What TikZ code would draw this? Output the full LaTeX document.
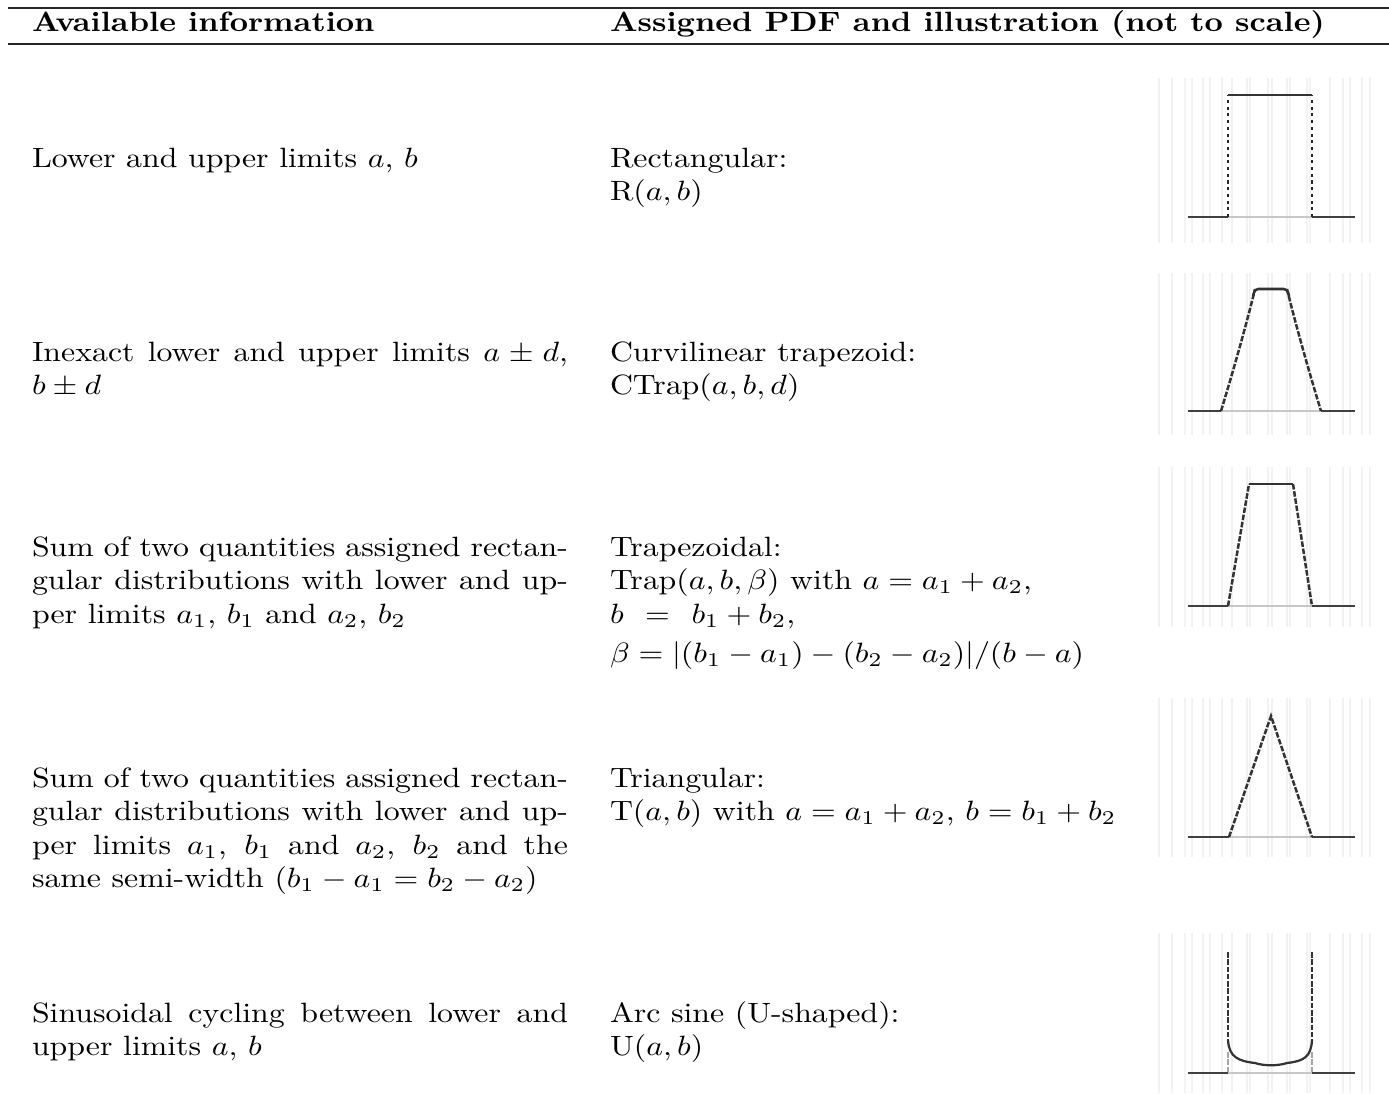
\documentclass[tikz,border=0pt]{standalone}
\usepackage{graphicx}
\newcommand{\wide}[1]{\scalebox{1.14}[1]{#1}}
\newcommand{\leftpar}[1]{\wide{\parbox[t]{168.4pt}{#1}}}
\newcommand{\rightpar}[1]{\wide{\parbox[t]{190pt}{\raggedright #1}}}
\tikzset{
  txt/.style={anchor=base west, inner sep=0pt, outer sep=0pt},
  toprulestyle/.style={line width=0.9pt, black!85},
  midrulestyle/.style={line width=0.75pt, black!85},
  axisdark/.style={line width=0.8pt, black!75},
  axislight/.style={line width=0.8pt, black!22},
  sidedot/.style={line width=0.9pt, black!85, dash pattern=on 1.1pt off 1.3pt},
  sidedash/.style={line width=0.9pt, black!80, dash pattern=on 2pt off 0.6pt},
  solidtop/.style={line width=0.9pt, black!80},
  ghost/.style={line width=0.5pt, black!5},
}
\begin{document}
\begin{tikzpicture}[x=0.3582pt, y=-0.3582pt]
\useasboundingbox (0,0) rectangle (1389,1093);

% faint background strips behind the illustrations
\foreach \ya/\yb in {78/243,273/435,467/627,698/857,933/1093}{
  \foreach \gx in {1159,1172,1185,1192,1203,1210,1222,1232,1247,1250,1268,1272,1287,1290,1307,1310,1330,1343,1350,1362,1370}{
    \draw[ghost] (\gx,\ya) -- (\gx,\yb);
  }
}

% rules
\coordinate (tl) at (8,8);
\coordinate (tr) at (1389,8);
\coordinate (ml) at (8,44);
\coordinate (mr) at (1389,44);
\draw[toprulestyle] (tl) -- (tr);
\draw[midrulestyle] (ml) -- (mr);

% header
\node[txt] (h1) at (32,31) {\wide{\textbf{Available information}}};
\node[txt] (h2) at (610,31) {\wide{\textbf{Assigned PDF and illustration (not to scale)}}};

% left column
\node[txt] (l1) at (32,167) {\leftpar{Lower and upper limits $a$, $b$}};
\node[txt] (l2) at (32,361) {\leftpar{Inexact lower and upper limits $a\pm d$,\linebreak $b\pm d$}};
\node[txt] (l3) at (32,556) {\leftpar{Sum of two quantities assigned rectan-\linebreak gular distributions with lower and up-\linebreak per limits $a_1$, $b_1$ and $a_2$, $b_2$}};
\node[txt] (l4) at (32,787) {\leftpar{Sum of two quantities assigned rectan-\linebreak gular distributions with lower and up-\linebreak per limits $a_1$, $b_1$ and $a_2$, $b_2$ and the\linebreak same semi-width $(b_1-a_1=b_2-a_2)$}};
\node[txt] (l5) at (32,1022) {\leftpar{Sinusoidal cycling between lower and\linebreak upper limits $a$, $b$}};

% right column
\node[txt] (r1) at (610,167) {\rightpar{Rectangular:\\ $\mathrm{R}(a,b)$}};
\node[txt] (r2) at (610,361) {\rightpar{Curvilinear trapezoid:\\ $\mathrm{CTrap}(a,b,d)$}};
\node[txt] (r3) at (610,556) {\rightpar{Trapezoidal:\\ $\mathrm{Trap}(a,b,\beta)$ with $a=a_1+a_2$,\\ $b\hspace{4pt}=\hspace{4pt}b_1+b_2$,\\[2pt] $\beta=|(b_1-a_1)-(b_2-a_2)|/(b-a)$}};
\node[txt] (r4) at (610,787) {\rightpar{Triangular:\\ $\mathrm{T}(a,b)$ with $a=a_1+a_2$, $b=b_1+b_2$}};
\node[txt] (r5) at (610,1022) {\rightpar{Arc sine (U-shaped):\\ $\mathrm{U}(a,b)$}};

% illustration 1: rectangular
\draw[axisdark] (1188,217) -- (1228,217);
\draw[axislight] (1228,217) -- (1312,217);
\draw[axisdark] (1312,217) -- (1355,217);
\draw[sidedot] (1228,217) -- (1228,95);
\draw[sidedot] (1312,217) -- (1312,95);
\draw[solidtop] (1228,95) -- (1312,95);

% illustration 2: curvilinear trapezoid
\draw[axisdark] (1188,411) -- (1221,411);
\draw[axislight] (1221,411) -- (1321,411);
\draw[axisdark] (1321,411) -- (1355,411);
\draw[sidedash] (1221,411) .. controls (1236,362) and (1249,314) .. (1255,289);
\draw[sidedash] (1287,289) .. controls (1293,314) and (1306,362) .. (1321,411);
\draw[solidtop, rounded corners=1.2pt] (1253,296) -- (1255,289) -- (1287,289) -- (1289,296);

% illustration 3: trapezoidal
\draw[axisdark] (1188,606) -- (1228,606);
\draw[axislight] (1228,606) -- (1312,606);
\draw[axisdark] (1312,606) -- (1355,606);
\draw[sidedash] (1228,606) -- (1249,484);
\draw[sidedash] (1293,484) -- (1312,606);
\draw[solidtop] (1249,484) -- (1293,484);

% illustration 4: triangular
\draw[axisdark] (1188,837) -- (1229,837);
\draw[axislight] (1229,837) -- (1312,837);
\draw[axisdark] (1312,837) -- (1355,837);
\draw[sidedash] (1229,837) -- (1271,716) -- (1312,837);

% illustration 5: arc sine
\draw[axisdark] (1188,1073) -- (1228,1073);
\draw[axislight] (1228,1073) -- (1312,1073);
\draw[axisdark] (1312,1073) -- (1355,1073);
\draw[sidedash, black!35] (1228,1052) -- (1228,1073);
\draw[sidedash, black!35] (1312,1052) -- (1312,1073);
\draw[sidedash] (1228,952) -- (1228,1040);
\draw[sidedash] (1312,952) -- (1312,1040);
\draw[solidtop, line width=0.8pt] (1228,1040) .. controls (1229,1057) and (1238,1061) .. (1255,1063)
  .. controls (1264,1066) and (1278,1066) .. (1287,1063)
  .. controls (1304,1061) and (1311,1057) .. (1312,1040);
\end{tikzpicture}
\end{document}
